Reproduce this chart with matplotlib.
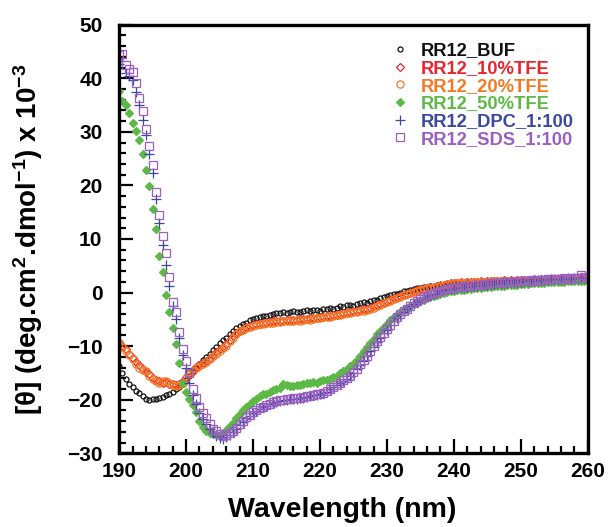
import numpy as np
import matplotlib
matplotlib.use("Agg")
import matplotlib.pyplot as plt
from matplotlib.ticker import MultipleLocator

plt.rcParams['font.family'] = ['Liberation Sans', 'DejaVu Sans']
plt.rcParams['font.weight'] = 'bold'
plt.rcParams['mathtext.fontset'] = 'custom'
plt.rcParams['mathtext.rm'] = 'Liberation Sans:bold'
plt.rcParams['mathtext.bf'] = 'Liberation Sans:bold'
plt.rcParams['mathtext.default'] = 'bf'

wavelength = np.arange(190.0, 260.25, 0.5)

buf = [
    -13.7,-15.0,-16.2,-17.0,-17.7,-18.3,-18.8,-19.3,-19.8,-20.1,
    -19.9,-19.8,-19.6,-19.5,-19.2,-18.9,-18.5,-18.0,-17.6,-17.0,
    -16.3,-15.6,-14.8,-14.1,-13.3,-12.6,-12.0,-11.4,-10.8,-10.1,
    -9.5,-8.9,-8.4,-7.8,-7.2,-6.7,-6.3,-5.9,-5.6,-5.2,
    -4.9,-4.8,-4.6,-4.4,-4.3,-4.1,-4.0,-3.9,-3.8,-3.7,
    -3.9,-3.6,-3.5,-3.7,-3.6,-3.4,-3.3,-3.5,-3.3,-3.2,
    -3.4,-3.1,-3.0,-2.9,-3.1,-2.8,-2.6,-2.7,-2.4,-2.3,
    -2.5,-2.1,-2.0,-1.8,-1.9,-1.5,-1.3,-1.4,-1.0,-0.9,
    -0.7,-0.5,-0.3,-0.2,0.0,0.2,0.3,0.5,0.6,0.8,
    0.9,1.0,1.1,1.2,1.3,1.4,1.5,1.5,1.6,1.7,
    1.7,1.7,1.8,1.7,1.9,1.8,1.9,2.0,1.9,2.0,
    2.1,2.0,2.1,2.2,2.1,2.2,2.3,2.2,2.2,2.3,
    2.4,2.3,2.4,2.3,2.5,2.4,2.4,2.5,2.6,2.5,
    2.4,2.5,2.6,2.5,2.7,2.6,2.5,2.6,2.7,2.6,
    2.5]

tfe10 = [
    -9.2,-10.0,-10.6,-11.5,-12.2,-13.0,-13.6,-14.2,-14.9,-15.3,
    -15.9,-16.3,-16.6,-16.9,-16.7,-17.1,-17.0,-17.2,-17.0,-16.5,
    -15.7,-15.0,-14.4,-13.9,-13.5,-13.1,-12.7,-12.2,-11.7,-11.1,
    -10.6,-10.1,-9.6,-8.9,-8.2,-7.6,-7.1,-6.8,-6.5,-6.2,
    -6.0,-5.9,-5.8,-5.6,-5.6,-5.5,-5.4,-5.4,-5.3,-5.3,
    -5.2,-5.2,-5.1,-5.1,-5.0,-5.0,-4.9,-4.8,-4.8,-4.7,
    -4.6,-4.5,-4.4,-4.4,-4.2,-4.1,-4.0,-3.9,-3.8,-3.6,
    -3.5,-3.4,-3.3,-3.1,-3.0,-2.8,-2.6,-2.3,-2.1,-1.9,
    -1.6,-1.3,-1.1,-0.9,-0.6,-0.4,-0.2,0.0,0.2,0.4,
    0.6,0.7,0.9,1.0,1.1,1.3,1.4,1.5,1.6,1.7,
    1.8,1.7,1.9,1.8,1.9,2.0,1.9,2.0,2.1,2.0,
    2.1,2.2,2.1,2.2,2.1,2.3,2.2,2.3,2.2,2.4,
    2.3,2.4,2.3,2.4,2.5,2.4,2.5,2.4,2.5,2.6,
    2.5,2.6,2.5,2.6,2.7,2.6,2.7,2.6,2.8,2.7,
    2.8]

tfe20 = [
    -9.6,-10.2,-10.9,-11.7,-12.5,-13.3,-14.0,-14.4,-14.7,-15.5,
    -16.2,-16.5,-16.8,-16.6,-16.5,-16.9,-17.3,-17.4,-17.2,-16.8,
    -16.0,-15.3,-14.6,-14.1,-13.7,-13.4,-13.0,-12.4,-11.9,-11.4,
    -10.9,-10.4,-9.9,-9.1,-8.4,-7.7,-7.2,-6.9,-6.6,-6.4,
    -6.2,-6.0,-5.9,-5.8,-5.7,-5.6,-5.6,-5.5,-5.5,-5.4,
    -5.4,-5.3,-5.4,-5.2,-5.3,-5.1,-5.0,-5.1,-4.9,-4.8,
    -4.8,-4.6,-4.5,-4.6,-4.4,-4.2,-4.1,-4.0,-3.9,-3.8,
    -3.7,-3.6,-3.5,-3.4,-3.3,-3.0,-2.8,-2.5,-2.3,-2.0,
    -1.7,-1.5,-1.2,-1.0,-0.8,-0.5,-0.3,-0.1,0.1,0.3,
    0.5,0.6,0.8,0.9,1.0,1.2,1.3,1.4,1.6,1.6,
    1.7,1.8,1.7,1.8,1.9,1.8,1.9,1.9,2.0,2.0,
    2.0,2.1,2.0,2.1,2.2,2.1,2.2,2.1,2.2,2.3,
    2.2,2.3,2.2,2.3,2.4,2.3,2.3,2.4,2.3,2.4,
    2.4,2.3,2.4,2.5,2.4,2.5,2.4,2.5,2.6,2.5,
    2.4]

tfe50 = [
    37.7,35.8,35.0,33.6,31.6,30.2,28.4,25.8,22.9,19.9,
    15.6,11.9,6.8,3.9,-0.4,-3.6,-6.6,-9.6,-13.2,-16.8,
    -18.6,-19.8,-21.0,-22.3,-24.0,-25.1,-25.8,-26.2,-26.4,-26.5,
    -26.6,-26.2,-25.7,-25.0,-24.3,-23.5,-22.6,-21.9,-21.3,-20.8,
    -20.3,-19.9,-19.4,-19.0,-18.9,-18.6,-18.2,-18.1,-17.8,-17.0,
    -17.3,-17.5,-17.4,-17.2,-17.3,-17.0,-16.9,-16.8,-16.7,-16.8,
    -16.6,-16.4,-16.3,-16.1,-15.8,-15.5,-15.1,-14.7,-14.3,-13.8,
    -13.3,-12.6,-11.8,-11.0,-10.2,-9.4,-8.6,-7.8,-7.1,-6.4,
    -5.8,-5.2,-4.6,-4.1,-3.7,-3.3,-3.0,-2.6,-2.2,-1.9,
    -1.6,-1.3,-1.1,-0.9,-0.7,-0.5,-0.3,-0.1,0.1,0.2,
    0.3,0.4,0.5,0.5,0.7,0.7,0.8,0.9,0.9,1.0,
    1.1,1.1,1.2,1.2,1.3,1.3,1.4,1.4,1.5,1.5,
    1.6,1.6,1.6,1.7,1.7,1.8,1.8,1.8,1.9,1.9,
    1.9,2.0,2.0,2.0,2.1,2.1,2.1,2.2,2.2,2.2,
    2.2]

dpc = [
    42.7,43.2,41.0,40.5,39.6,37.5,35.0,32.3,29.4,25.8,
    22.3,17.5,13.0,8.8,5.2,1.2,-2.5,-5.0,-8.4,-11.6,
    -14.0,-16.8,-19.2,-20.8,-22.4,-23.6,-24.6,-25.5,-26.2,-26.8,
    -27.1,-27.4,-27.0,-26.6,-26.0,-25.4,-24.8,-24.1,-23.5,-23.0,
    -22.5,-22.1,-21.8,-21.4,-21.1,-20.8,-20.6,-20.4,-20.2,-20.1,
    -20.0,-19.9,-19.8,-19.8,-19.7,-19.6,-19.5,-19.3,-19.2,-19.1,
    -19.0,-18.8,-18.5,-18.1,-17.7,-17.3,-16.9,-16.5,-16.1,-15.6,
    -15.0,-14.3,-13.5,-12.7,-11.9,-11.0,-10.1,-9.2,-8.4,-7.6,
    -6.9,-6.1,-5.4,-4.7,-4.1,-3.6,-3.1,-2.6,-2.1,-1.7,
    -1.3,-1.0,-0.7,-0.4,-0.2,0.0,0.2,0.4,0.6,0.7,
    0.8,0.9,1.0,1.1,1.1,1.2,1.3,1.3,1.4,1.5,
    1.5,1.6,1.6,1.7,1.7,1.8,1.8,1.9,1.9,2.0,
    2.0,2.1,2.1,2.2,2.2,2.3,2.3,2.4,2.4,2.5,
    2.5,2.5,2.6,2.6,2.7,2.6,2.7,2.7,2.8,2.7,
    2.7]

sds = [
    44.4,44.6,42.4,41.8,41.1,39.2,36.4,33.9,30.6,27.3,
    23.9,18.8,14.4,10.5,7.3,2.9,-1.8,-3.6,-7.3,-10.5,
    -12.7,-15.0,-18.0,-19.6,-21.3,-22.5,-23.4,-24.6,-25.4,-25.9,
    -26.4,-26.8,-26.6,-26.3,-25.9,-25.2,-24.5,-24.0,-23.3,-22.8,
    -22.3,-22.0,-21.6,-21.3,-21.0,-20.8,-20.5,-20.3,-20.1,-20.0,
    -19.9,-19.8,-19.7,-19.6,-19.6,-19.5,-19.4,-19.3,-19.1,-19.0,
    -18.9,-18.7,-18.4,-18.0,-17.6,-17.2,-16.8,-16.4,-16.0,-15.5,
    -14.9,-14.2,-13.4,-12.6,-11.8,-10.9,-10.0,-9.1,-8.3,-7.5,
    -6.8,-6.0,-5.3,-4.6,-4.0,-3.5,-3.0,-2.5,-2.0,-1.6,
    -1.2,-0.9,-0.6,-0.3,-0.1,0.1,0.3,0.5,0.7,0.8,
    0.9,1.0,1.1,1.2,1.2,1.3,1.4,1.4,1.5,1.6,
    1.6,1.7,1.7,1.8,1.8,1.9,1.9,2.0,2.0,2.1,
    2.1,2.2,2.2,2.3,2.2,2.3,2.4,2.4,2.5,2.5,
    2.5,2.6,2.6,2.7,2.6,2.7,2.8,2.7,3.2,2.9,
    2.8]

labels = ['RR12_BUF', 'RR12_10%TFE', 'RR12_20%TFE', 'RR12_50%TFE',
          'RR12_DPC_1:100', 'RR12_SDS_1:100']
colors = ['#111111', '#e8242c', '#f47a22', '#5cb946', '#3a48a0', '#9b5fc0']
series = [buf, tfe10, tfe20, tfe50, dpc, sds]
markers = ['o', 'D', 'o', 'D', '+', 's']
msizes = [3.6, 4.2, 5.2, 4.4, 6.5, 5.6]
filled = [False, False, False, True, False, False]

fig = plt.figure(figsize=(6.11, 5.27), dpi=100)
ax = fig.add_axes([0.195, 0.140, 0.767, 0.813])

for y, c, m, s, f, lab in zip(series, colors, markers, msizes, filled, labels):
    ax.plot(wavelength, y, linestyle='none', marker=m, markersize=s,
            markeredgecolor=c, markerfacecolor=(c if f else 'none'),
            markeredgewidth=0.9, label=lab)

ax.set_xlim(190, 260)
ax.set_ylim(-30, 50)
ax.xaxis.set_major_locator(MultipleLocator(10))
ax.xaxis.set_minor_locator(MultipleLocator(2))
ax.yaxis.set_major_locator(MultipleLocator(10))
ax.yaxis.set_minor_locator(MultipleLocator(2))
ax.tick_params(which='both', direction='in', top=False, right=False, width=1.6)
ax.tick_params(which='major', length=10, labelsize=15)
ax.tick_params(axis='y', which='major', pad=12)
ax.tick_params(axis='x', which='major', pad=6)
ax.tick_params(which='minor', length=5)
for lbl in ax.get_xticklabels() + ax.get_yticklabels():
    lbl.set_fontweight('bold')
for sp in ax.spines.values():
    sp.set_linewidth(2.4)

ax.set_xlabel('Wavelength (nm)', fontsize=20.5, fontweight='bold')
ax.xaxis.set_label_coords(0.476, -0.103)
ax.set_ylabel(r'[θ] (deg.cm$^{2}$.dmol$^{-1}$) x 10$^{-3}$', fontsize=20,
              fontweight='bold')
ax.yaxis.set_label_coords(-0.158, 0.5)

leg = ax.legend(loc='upper left', bbox_to_anchor=(0.56, 0.985), frameon=False,
                fontsize=13.2, handlelength=0.8, handletextpad=0.75,
                labelspacing=0.04, borderaxespad=0.2)
for txt, c in zip(leg.get_texts(), colors):
    txt.set_color(c)
    txt.set_fontweight('bold')

fig.savefig('out.png', dpi=100)
